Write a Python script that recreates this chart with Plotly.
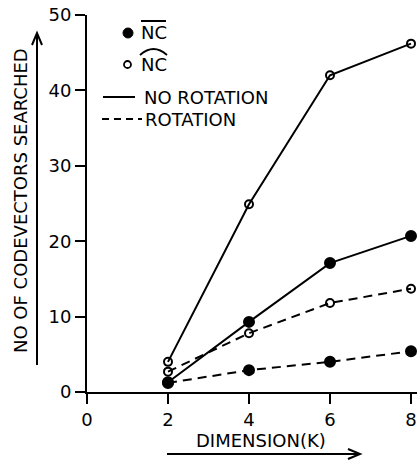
import plotly.graph_objects as go

# Vector quantiser search cost vs. vector dimension
dims = [2, 4, 6, 8]
nc_bar_no_rot = [1.3, 9.3, 17.1, 20.7]
nc_hat_no_rot = [4.0, 24.9, 42.0, 46.2]
nc_bar_rot = [1.2, 2.9, 4.0, 5.4]
nc_hat_rot = [2.7, 7.8, 11.8, 13.7]

x_ticks = [0, 2, 4, 6, 8]
y_ticks = [0, 10, 20, 30, 40, 50]

W, H = 418, 460
ML, MR, MT, MB = 87, 1, 15, 68
PW, PH = W - ML - MR, H - MT - MB

FONT = "DejaVu Sans"
FSIZE = 18
BLACK = "#000000"


def px(x):
    return (x - ML) / PW


def py(y):
    return (H - MB - y) / PH


fig = go.Figure()

series = [
    (nc_bar_no_rot, "solid", "circle", 10),
    (nc_hat_no_rot, "solid", "circle-open", 8),
    (nc_bar_rot, "9px,6px", "circle", 10),
    (nc_hat_rot, "9px,6px", "circle-open", 8),
]
for vals, dash, sym, size in series:
    fig.add_trace(go.Scatter(
        x=dims, y=vals, mode="lines+markers",
        line=dict(color=BLACK, width=2, dash=dash),
        marker=dict(symbol=sym, size=size, color=BLACK,
                    line=dict(color=BLACK, width=2)),
        cliponaxis=False, showlegend=False,
    ))

tick_font = dict(family=FONT, size=FSIZE, color=BLACK)
axis_common = dict(
    showgrid=False, zeroline=False, showline=True, linecolor=BLACK,
    linewidth=2, ticks="outside", ticklen=10, tickwidth=2,
    tickcolor=BLACK, tickfont=tick_font,
)
fig.update_xaxes(range=[0, 8 * PW / 324], tickvals=x_ticks, **axis_common)
fig.update_yaxes(range=[0, 50], tickvals=y_ticks, **axis_common)

shapes = []
annotations = []


def seg(x0, y0, x1, y1, dash="solid", width=2):
    shapes.append(dict(type="line", xref="paper", yref="paper",
                       x0=px(x0), y0=py(y0), x1=px(x1), y1=py(y1),
                       line=dict(color=BLACK, width=width, dash=dash)))


def label(x, y, text, angle=0, anchor="left"):
    annotations.append(dict(xref="paper", yref="paper", x=px(x), y=py(y),
                            text=text, showarrow=False, textangle=angle,
                            xanchor=anchor, yanchor="middle",
                            font=tick_font))


# legend: marker keys
shapes.append(dict(type="circle", xref="paper", yref="paper",
                   x0=px(123), x1=px(133), y0=py(28), y1=py(38),
                   fillcolor=BLACK, line=dict(color=BLACK, width=1)))
shapes.append(dict(type="circle", xref="paper", yref="paper",
                   x0=px(124), x1=px(131), y0=py(61), y1=py(68),
                   fillcolor="white", line=dict(color=BLACK, width=1.8)))
label(139, 33, "NC")
label(139, 65, "NC")
seg(141, 21, 166, 21)
shapes.append(dict(type="path", xref="paper", yref="paper",
                   path="M {},{} Q {},{} {},{}".format(
                       px(140), py(55), px(153.5), py(43), px(167), py(55)),
                   line=dict(color=BLACK, width=1.8)))

# legend: line style keys
seg(103, 97, 135, 97)
label(142, 97, "NO ROTATION")
seg(102, 119, 142, 119, dash="7px,5px")
label(143, 119, "ROTATION")

# axis titles with arrows
label(20, 201, "NO OF CODEVECTORS SEARCHED", angle=-90, anchor="center")
seg(37, 365, 37, 34)
shapes.append(dict(type="path", xref="paper", yref="paper",
                   path="M {},{} L {},{} L {},{}".format(
                       px(32), py(45), px(37), py(33), px(42), py(45)),
                   line=dict(color=BLACK, width=2)))

label(261, 440, "DIMENSION(K)", anchor="center")
seg(167, 454, 359, 454)
shapes.append(dict(type="path", xref="paper", yref="paper",
                   path="M {},{} L {},{} L {},{}".format(
                       px(348), py(449), px(360), py(454), px(348), py(459)),
                   line=dict(color=BLACK, width=2)))

fig.update_layout(
    width=W, height=H,
    margin=dict(l=ML, r=MR, t=MT, b=MB),
    paper_bgcolor="white", plot_bgcolor="white",
    shapes=shapes, annotations=annotations,
    showlegend=False,
)

fig.write_html("out.html", config={"displayModeBar": False})
